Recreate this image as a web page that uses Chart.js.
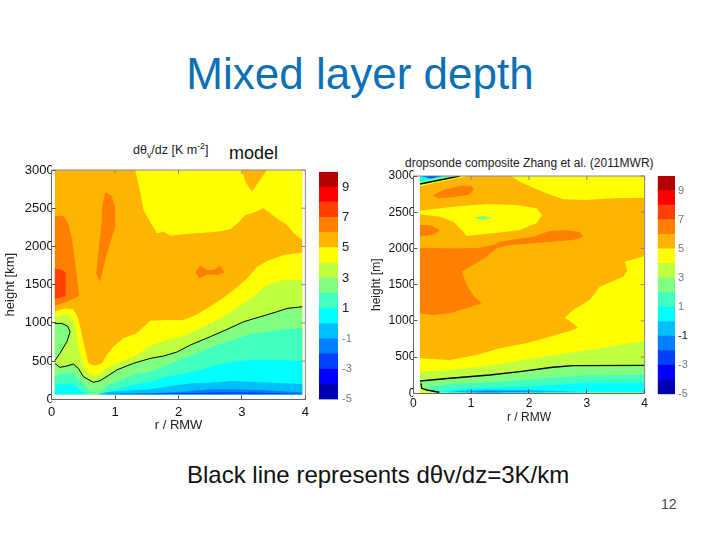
<!DOCTYPE html>
<html lang="en">
<head>
<meta charset="UTF-8">
<title>Mixed layer depth</title>
<script src="https://cdn.jsdelivr.net/npm/chart.js"></script>
<style>
    html, body { margin: 0; background: #fff; }
    body { width: 720px; height: 540px; position: relative; overflow: hidden; font-family: "Liberation Sans", Arial, sans-serif; }
    canvas { position: absolute; filter: blur(0.4px); }
    .txt { position: absolute; white-space: nowrap; color: #111; }
    #slideTitle { left: 0; width: 720px; top: 49px; text-align: center; font-size: 44px; color: #0b70b5; }
    #caption { left: 187px; top: 461px; font-size: 24px; }
    #pageNo { left: 661px; top: 496px; font-size: 14px; color: #444; }
    #leftTitle { left: 133px; top: 143px; font-size: 12.5px; color: #222; }
    #modelLabel { left: 229px; top: 143px; font-size: 18px; }
    #rightTitle { left: 405px; top: 156px; font-size: 12px; color: #222; }
    sub, sup { font-size: 70%; line-height: 0; }
</style>
</head>
<body>
<div class="txt" id="slideTitle">Mixed layer depth</div>
<div class="txt" id="leftTitle">d&theta;<sub>v</sub>/dz [K m<sup>-2</sup>]</div>
<div class="txt" id="modelLabel">model</div>
<div class="txt" id="rightTitle">dropsonde composite Zhang et al. (2011MWR)</div>
<div class="txt" id="caption">Black line represents d&theta;v/dz=3K/km</div>
<div class="txt" id="pageNo">12</div>

<canvas id="leftPanel" style="left:0;top:160px" width="318" height="273"></canvas>
<canvas id="leftBar" style="left:310px;top:160px" width="50" height="250"></canvas>
<canvas id="rightPanel" style="left:362px;top:166px" width="293" height="259"></canvas>
<canvas id="rightBar" style="left:650px;top:166px" width="50" height="238"></canvas>

<script>
// colour bar
const barLevels = [-5, -4, -3, -2, -1, 0, 1, 2, 3, 4, 5, 6, 7, 8, 9, 10];
const barColors = ['#0000b3', '#0000ff', '#0040ff', '#0080ff', '#00bfff', '#00ffff', '#40ffbf', '#80ff80',
                   '#bfff40', '#ffff00', '#ffb400', '#ff8000', '#ff4000', '#ff0000', '#b30000'];
const barTicks = [-5, -3, -1, 1, 3, 5, 7, 9];
const rTicks = [0, 1, 2, 3, 4];
const heightTicks = [0, 500, 1000, 1500, 2000, 2500, 3000];

// model panel, contours as [r/RMW, height]
const leftRange = [0.05, 3.95], leftFloor = 65;
const leftTopYellow = [[1.316,3000],[1.395,2716],[1.447,2476],[1.553,2324],[1.658,2171],[1.763,2193],[1.868,2141],[2.132,2163],[2.395,2180],[2.605,2193],[2.816,2224],[2.947,2315],[3.053,2411],[3.158,2433],[3.342,2498],[3.553,2367],[3.711,2280],[3.816,2171],[3.95,2084],[3.95,3000]];
const leftTopPatch = [[3,3000],[3.053,2847],[3.158,2716],[3.263,2847],[3.395,3000]];
const leftOrangeA = [[0.05,2398],[0.184,2398],[0.263,2302],[0.316,2106],[0.368,1801],[0.432,1352],[0.237,1277],[0.05,1225]];
const leftRedA = [[0.05,1713],[0.158,1692],[0.221,1661],[0.221,1352],[0.05,1312]];
const leftOrangeB = [[0.842,2708],[0.947,2664],[1,2498],[1,2258],[0.895,1975],[0.816,1735],[0.763,1539],[0.7,1648],[0.737,1931],[0.789,2324],[0.8,2542]];
const leftOrangeC = [[2.342,1748],[2.447,1692],[2.553,1692],[2.658,1748],[2.721,1657],[2.605,1626],[2.447,1635],[2.332,1583],[2.263,1661]];
const leftLevel5 = [[0.05,1150],[0.21,1190],[0.34,1177],[0.42,1059],[0.47,863],[0.53,645],[0.58,471],[0.68,440],[0.79,471],[0.87,580],[0.97,689],[1.13,798],[1.34,863],[1.553,1028],[1.816,1037],[2.079,1037],[2.238,1089],[2.448,1189],[2.659,1298],[2.869,1429],[3.08,1582],[3.238,1734],[3.396,1809],[3.659,1887],[3.95,1917]];
const leftLevel4 = [[0.05,1080],[0.24,1115],[0.34,1037],[0.39,863],[0.42,689],[0.47,514],[0.55,362],[0.68,310],[0.76,340],[0.87,405],[1.03,471],[1.29,558],[1.447,640],[1.553,700],[1.82,775],[2.079,828],[2.343,928],[2.606,1037],[2.869,1168],[3.133,1320],[3.396,1495],[3.659,1560],[3.95,1569]];
const leftLevel3 = [[0.05,470],[0.13,418],[0.24,436],[0.34,462],[0.42,405],[0.5,296],[0.657,222],[0.763,244],[0.89,309],[1.026,384],[1.29,471],[1.553,535],[1.763,566],[1.974,618],[2.185,710],[2.501,819],[2.764,915],[3.027,1015],[3.29,1080],[3.554,1146],[3.712,1189],[3.95,1211]];
const leftLevel3Island = [[0.05,505],[0.13,601],[0.24,754],[0.29,884],[0.25,958],[0.16,993],[0.05,993]];
const leftLevel2 = [[0.05,305],[0.24,340],[0.34,340],[0.42,253],[0.53,166],[0.66,90],[0.76,85],[0.89,187],[1.03,231],[1.29,318],[1.553,361],[1.816,448],[2.079,535],[2.343,622],[2.606,710],[2.869,775],[3.133,854],[3.396,884],[3.659,915],[3.95,928]];
const leftLevel1 = [[0.05,187],[0.24,205],[0.34,190],[0.42,140],[0.5,90],[0.58,65],[0.76,65],[0.89,100],[1.03,130],[1.29,190],[1.553,230],[1.816,296],[2.079,339],[2.343,383],[2.606,448],[2.869,492],[3.133,514],[3.396,514],[3.95,505]];
const leftLevel0 = [[0.72,65],[0.89,95],[1.03,105],[1.553,130],[1.87,173],[2.19,208],[2.5,217],[2.82,239],[3.13,230],[3.45,217],[3.95,200]];
const leftLevelM1 = [[0.75,65],[1.03,75],[1.553,78],[2.08,99],[2.5,130],[2.82,130],[3.29,121],[3.95,90]];
const leftLevelM2 = [[0.8,65],[1.5,72],[2.5,90],[3,92],[3.5,85],[3.95,70]];

// dropsonde panel
const rightRange = [0.115, 4], rightFloor = 14;
const rightTopYellow = [[1.698,3000],[1.842,2922],[2.072,2839],[2.302,2761],[2.59,2678],[2.993,2669],[3.453,2692],[4,2701],[4,3000]];
const rightMidYellow = [[0.115,2521],[0.691,2577],[1.266,2613],[1.784,2600],[2.129,2554],[2.227,2462],[2.129,2346],[1.842,2254],[1.381,2208],[0.921,2172],[0.835,2254],[0.691,2369],[0.46,2438],[0.115,2471]];
const rightSpotOuter = [[1.065,2425],[1.209,2452],[1.353,2425],[1.209,2388]];
const rightOrangeA = [[0.334,2728],[0.518,2807],[0.806,2866],[1.007,2866],[1.047,2807],[0.95,2738],[0.691,2705],[0.432,2692]];
const rightOrangeB = [[0.115,2323],[0.288,2323],[0.46,2254],[0.374,2195],[0.201,2172],[0.115,2177]];
const rightOrangeC = [[0.115,2011],[0.748,2000],[1.15,2010],[1.381,2047],[1.496,2093],[1.784,2130],[2.072,2162],[2.36,2241],[2.647,2254],[2.878,2222],[2.947,2162],[2.763,2116],[2.417,2093],[2.072,2070],[1.669,2047],[1.439,2001],[1.266,1886],[1.036,1771],[0.835,1679],[0.921,1495],[1.036,1357],[1.18,1242],[0.921,1173],[0.633,1104],[0.345,1081],[0.115,1104]];
const rightLevel5 = [[0.115,483],[0.633,460],[1.094,529],[1.496,621],[1.957,690],[2.36,782],[2.705,860],[2.849,906],[2.763,966],[2.619,1044],[2.763,1150],[3.05,1288],[3.223,1472],[3.626,1610],[3.701,1689],[3.655,1817],[4,1896]];
const rightLevel4 = [[0.115,299],[0.6,320],[1.1,360],[1.497,405],[2.07,484],[2.65,553],[3.22,622],[4,727]];
const rightLevel3 = [[0.115,170],[0.634,207],[1.32,253],[1.84,299],[2.41,359],[2.76,382],[4,386]];
const rightLevel2 = [[0.115,60],[0.3,85],[0.63,130],[1.32,150],[2,190],[3,245],[4,253]];
const rightLevel1 = [[0.4,14],[0.7,55],[1.3,75],[2,95],[3,145],[4,147]];
const rightLevel0 = [[0.55,14],[0.8,35],[1.2,50],[2,45],[2.6,30],[3,14]];
const rightLevelM1 = [[0.8,14],[1.2,30],[1.8,28],[2.3,14]];
const rightLevelM2 = [[1,14],[1.3,20],[1.6,14]];
const rightCornerYellow = [[0.115,130],[0.145,69],[0.23,46],[0.45,14],[0.115,14]];
const rightTopLineYellow = [[0.115,2860],[0.95,3000],[0.115,3000]];
const rightTopLine = [[0.115,2889],[0.806,3000]];
const rightTopCyan = [[0.115,2925],[0.62,3000],[0.115,3000]];
const rightTopBlue = [[0.2,2985],[0.3,2965],[0.5,3000],[0.15,3000]];
const rightCornerLine = [[0.133,138],[0.145,69],[0.23,46],[0.45,14]];

const asPoints = list => list.map(p => ({ x: p[0], y: p[1] }));
const band = v => barColors[barLevels.indexOf(v)];

// upper contour of a level closed along the floor of the data
function floorClosed(curve, floor) {
    return curve.concat([[curve[curve.length - 1][0], floor], [curve[0][0], floor]]);
}

// box around the axes with the small ticks on top and right
const axesBox = {
    id: 'axesBox',
    afterDatasetsDraw(chart) {
        const { ctx, chartArea: a, scales } = chart;
        ctx.save();
        ctx.strokeStyle = '#888';
        ctx.lineWidth = 1;
        ctx.beginPath();
        ctx.moveTo(a.left, a.top); ctx.lineTo(a.right, a.top); ctx.lineTo(a.right, a.bottom);
        rTicks.forEach(v => {
            const px = scales.x.getPixelForValue(v);
            ctx.moveTo(px, a.top); ctx.lineTo(px, a.top + 4);
        });
        heightTicks.forEach(v => {
            const py = scales.y.getPixelForValue(v);
            ctx.moveTo(a.right, py); ctx.lineTo(a.right - 4, py);
        });
        ctx.stroke();
        ctx.restore();
    }
};

function contourChart(id, cfg) {
    const sets = cfg.layers.map((layer, i) => ({
        data: asPoints(layer.pts),
        showLine: true,
        pointRadius: 0,
        borderWidth: 0,
        borderColor: 'transparent',
        backgroundColor: layer.color,
        fill: 'shape',
        order: 1000 - i
    }));
    cfg.lines.forEach(l => sets.push({
        data: asPoints(l),
        showLine: true,
        pointRadius: 0,
        borderWidth: cfg.lineWidth,
        borderColor: '#000',
        fill: false,
        order: 0
    }));
    const inwardGrid = { drawOnChartArea: false, tickLength: -4, color: '#555', z: 2 };
    const frame = { display: true, color: '#666', width: 1, z: 3 };
    const f = { family: 'Liberation Sans', size: cfg.fontSize };
    new Chart(document.getElementById(id), {
        type: 'scatter',
        data: { datasets: sets },
        plugins: [axesBox],
        options: {
            responsive: false,
            animation: false,
            events: [],
            layout: { padding: cfg.padding },
            plugins: { legend: { display: false }, tooltip: { enabled: false } },
            scales: {
                x: {
                    type: 'linear', position: 'bottom', min: 0, max: 4,
                    afterBuildTicks: a => { a.ticks = rTicks.map(v => ({ value: v })); },
                    ticks: { color: '#111', font: f, padding: cfg.xPad, maxRotation: 0, callback: v => String(v) },
                    grid: inwardGrid, border: frame,
                    title: { display: true, text: 'r / RMW', color: '#222', font: f, padding: 0 },
                    afterFit: s => { s.height = cfg.xHeight; }
                },
                y: {
                    type: 'linear', position: 'left', min: 0, max: 3000,
                    afterBuildTicks: a => { a.ticks = heightTicks.map(v => ({ value: v })); },
                    ticks: { color: '#111', font: f, padding: cfg.yPad, callback: v => String(v) },
                    grid: inwardGrid, border: frame,
                    title: { display: true, text: cfg.yTitle, color: '#222', font: f, padding: { top: cfg.yTitleShift, bottom: 0 } },
                    afterFit: s => { s.width = cfg.yWidth; }
                }
            }
        }
    });
}

function colorBar(id, cfg) {
    const sets = barColors.map((c, i) => ({
        data: [[barLevels[i], barLevels[i + 1]]],
        backgroundColor: c,
        borderWidth: 0,
        barPercentage: 1,
        categoryPercentage: 1,
        stack: 'bar'
    }));
    new Chart(document.getElementById(id), {
        type: 'bar',
        data: { labels: ['dthetav'], datasets: sets },
        options: {
            responsive: false,
            animation: false,
            events: [],
            layout: { padding: cfg.padding },
            plugins: { legend: { display: false }, tooltip: { enabled: false } },
            scales: {
                x: { display: false, stacked: true },
                y: {
                    position: 'right', min: -5, max: 10, stacked: false,
                    afterBuildTicks: a => { a.ticks = barTicks.map(v => ({ value: v })); },
                    grid: { drawOnChartArea: false, tickLength: 0 },
                    border: { display: false },
                    ticks: {
                        padding: cfg.tickPad,
                        color: ctx => ctx.tick ? cfg.tickColor(ctx.tick.value) : '#222',
                        font: ctx => ({ family: 'Liberation Sans', size: ctx.tick ? cfg.tickSize(ctx.tick.value) : 13 })
                    },
                    afterFit: s => { s.width = cfg.axisWidth; }
                }
            }
        }
    });
}

contourChart('leftPanel', {
    padding: { top: 10, right: 7, left: 0, bottom: 0 },
    xHeight: 33.7, yWidth: 51.7, xPad: 9, yPad: 2, yTitleShift: 3, fontSize: 13, lineWidth: 1,
    yTitle: 'height [km]',
    layers: [
        { pts: [[leftRange[0], leftFloor], [leftRange[1], leftFloor], [leftRange[1], 3000], [leftRange[0], 3000]], color: band(5) },
        { pts: leftTopYellow, color: band(4) },
        { pts: leftTopPatch, color: band(5) },
        { pts: leftOrangeA, color: band(6) },
        { pts: leftRedA, color: band(7) },
        { pts: leftOrangeB, color: band(6) },
        { pts: leftOrangeC, color: band(6) },
        { pts: floorClosed(leftLevel5, leftFloor), color: band(4) },
        { pts: floorClosed(leftLevel4, leftFloor), color: band(3) },
        { pts: floorClosed(leftLevel3, leftFloor), color: band(2) },
        { pts: leftLevel3Island, color: band(2) },
        { pts: floorClosed(leftLevel2, leftFloor), color: band(1) },
        { pts: floorClosed(leftLevel1, leftFloor), color: band(0) },
        { pts: floorClosed(leftLevel0, leftFloor), color: band(-1) },
        { pts: floorClosed(leftLevelM1, leftFloor), color: band(-2) },
        { pts: floorClosed(leftLevelM2, leftFloor), color: band(-3) }
    ],
    lines: [leftLevel3, leftLevel3Island]
});

contourChart('rightPanel', {
    padding: { top: 10, right: 9, left: 0, bottom: 0 },
    xHeight: 31.7, yWidth: 51.3, xPad: 7, yPad: 2, yTitleShift: 7, fontSize: 12, lineWidth: 1.4,
    yTitle: 'height [m]',
    layers: [
        { pts: [[rightRange[0], rightFloor], [rightRange[1], rightFloor], [rightRange[1], 3000], [rightRange[0], 3000]], color: band(5) },
        { pts: rightTopYellow, color: band(4) },
        { pts: rightMidYellow, color: band(4) },
        { pts: rightSpotOuter, color: band(2) },
        { pts: rightOrangeA, color: band(6) },
        { pts: rightOrangeB, color: band(6) },
        { pts: rightOrangeC, color: band(6) },
        { pts: floorClosed(rightLevel5, rightFloor), color: band(4) },
        { pts: floorClosed(rightLevel4, rightFloor), color: band(3) },
        { pts: floorClosed(rightLevel3, rightFloor), color: band(2) },
        { pts: floorClosed(rightLevel2, rightFloor), color: band(1) },
        { pts: floorClosed(rightLevel1, rightFloor), color: band(0) },
        { pts: rightCornerYellow, color: band(4) },
        { pts: rightLevel0, color: band(-1) },
        { pts: rightLevelM1, color: band(-2) },
        { pts: rightLevelM2, color: band(-3) },
        { pts: rightTopLineYellow, color: band(4) },
        { pts: rightTopLine.concat([[0.115, 3000]]), color: band(2) },
        { pts: rightTopCyan, color: band(0) },
        { pts: rightTopBlue, color: band(-3) }
    ],
    lines: [rightLevel3, rightTopLine, rightCornerLine]
});

colorBar('leftBar', {
    padding: { top: 10, bottom: 9.3, left: 9, right: 0 },
    axisWidth: 22, tickPad: 4,
    tickColor: v => v < 0 ? '#777' : '#222',
    tickSize: v => v < 0 ? 11 : 13
});

colorBar('rightBar', {
    padding: { top: 10, bottom: 9.7, left: 7.7, right: 0 },
    axisWidth: 25, tickPad: 3,
    tickColor: v => v === -1 ? '#111' : '#777',
    tickSize: v => 11
});
</script>
</body>
</html>
